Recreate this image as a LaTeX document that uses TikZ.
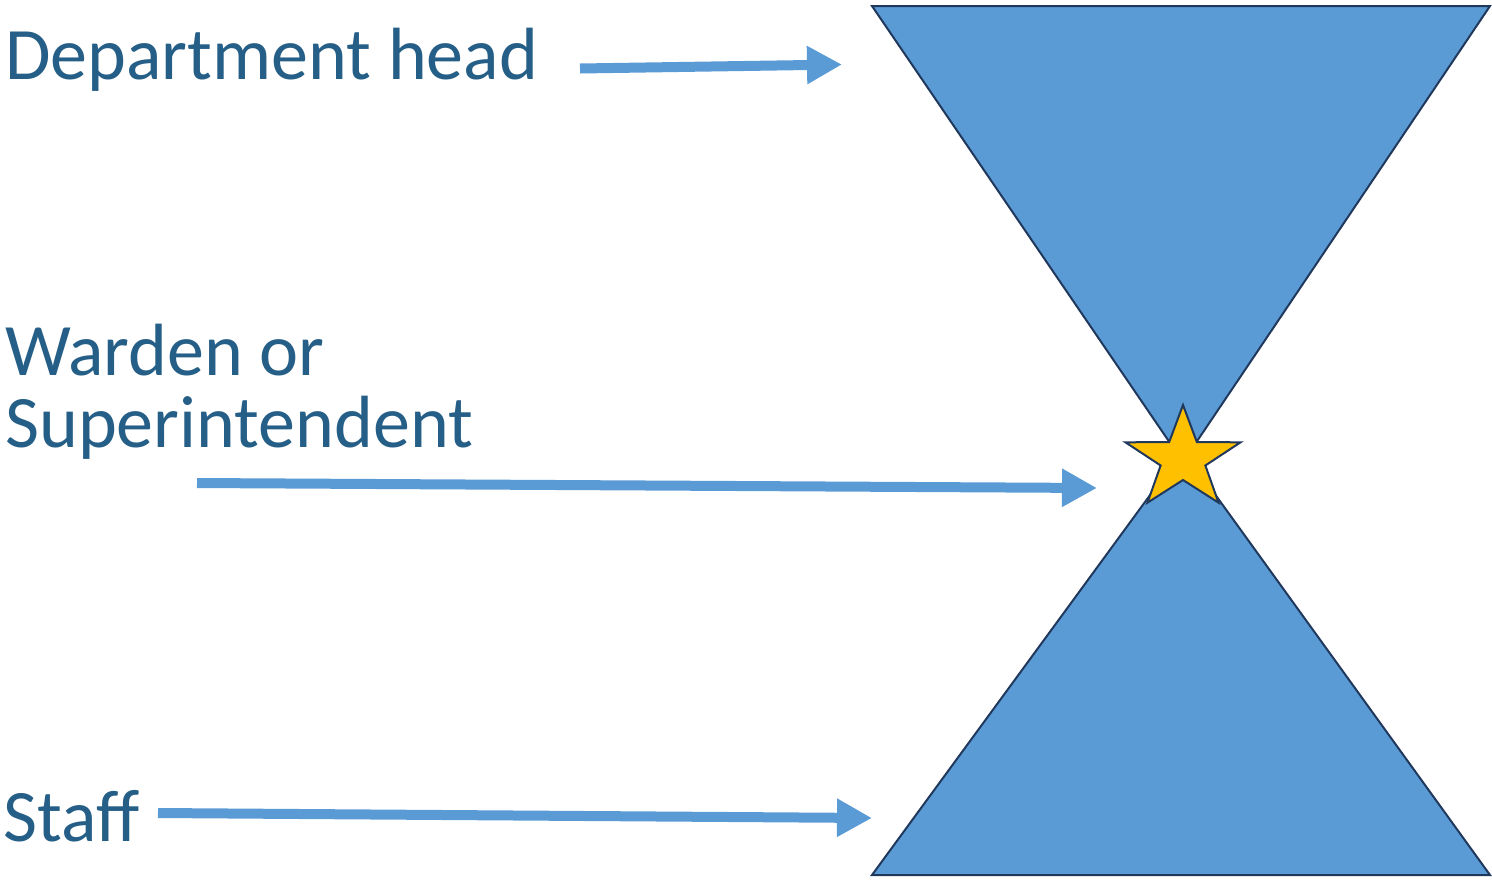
\documentclass[tikz,border=0pt]{standalone}
\usepackage{fontspec}
\setmainfont{Carlito}
\usetikzlibrary{arrows.meta}
\definecolor{txtblue}{RGB}{37,94,134}
\definecolor{fillblue}{RGB}{91,155,213}
\definecolor{edgeblue}{RGB}{32,56,92}
\definecolor{stargold}{RGB}{255,192,0}
\tikzset{
  lbl/.style={font=\fontsize{74}{72}\selectfont, text=txtblue, inner sep=0pt, anchor=base west, align=left},
  arr/.style={draw=fillblue, line width=10pt, -{Triangle[length=35pt,width=36pt]}},
  tri/.style={fill=fillblue, draw=edgeblue, line width=2pt, line join=miter},
  starshape/.style={fill=stargold, draw=edgeblue, line width=2pt, line join=miter}
}
\begin{document}
\begin{tikzpicture}[x=1pt,y=-1pt]
\useasboundingbox (0,0) rectangle (1492,879);
% triangles
\draw[tri] (872,6) -- (1490,6) -- (1183,462) -- cycle;
\draw[tri] (872,875) -- (1490,875) -- (1183,450) -- cycle;
% star
\draw[starshape, shift={(1183,459)}, xscale=1.12, yscale=-1]
  (90:54) -- (126:21) -- (162:54) -- (198:21) -- (234:54) -- (270:21)
  -- (306:54) -- (342:21) -- (18:54) -- (54:21) -- cycle;
% labels
\node[lbl] (dept) at (5,79) {Department head};
\node[lbl] (warden) at (5,447) {Warden or\\Superintendent};
\node[lbl] (staff) at (3,841) {Staff};
% arrows
\coordinate (a1s) at (580,68.5);
\coordinate (a1e) at (842,64.5);
\coordinate (a2s) at (197,483);
\coordinate (a2e) at (1097,488);
\coordinate (a3s) at (158,813);
\coordinate (a3e) at (872,818);
\draw[arr] (a1s) -- (a1e);
\draw[arr] (a2s) -- (a2e);
\draw[arr] (a3s) -- (a3e);
\end{tikzpicture}
\end{document}
